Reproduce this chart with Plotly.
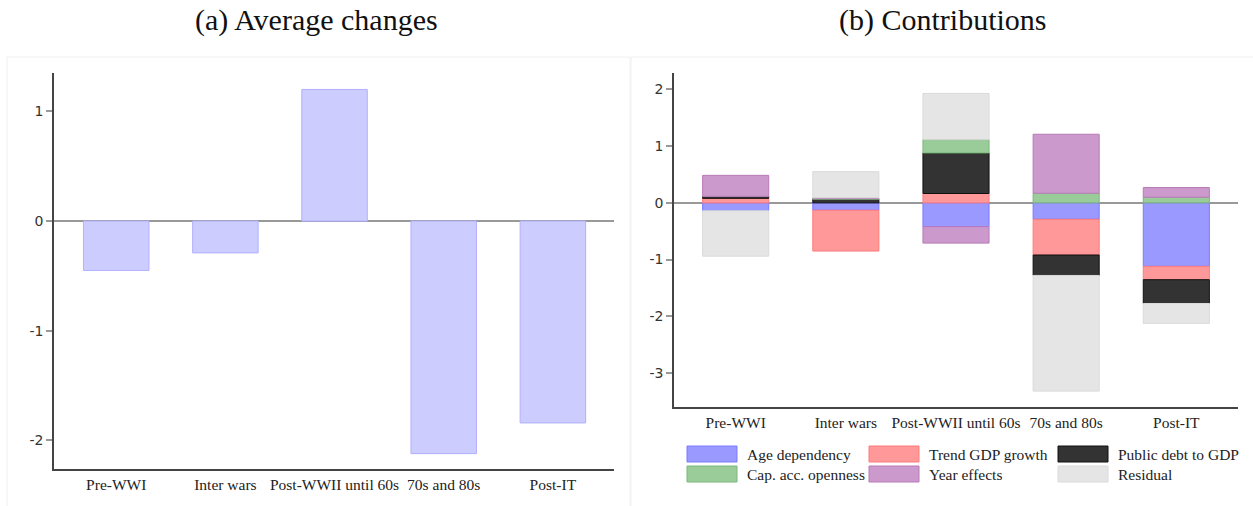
import plotly.graph_objects as go

W, H = 1253, 506

periods = ["Pre-WWI", "Inter wars", "Post-WWII until 60s", "70s and 80s", "Post-IT"]

# (a) average change per period
avg_change = [-0.45, -0.29, 1.20, -2.12, -1.84]

# (b) decomposition of the change into contributions
age_dependency = [-0.14, -0.13, -0.42, -0.29, -1.12]
trend_gdp_growth = [0.08, -0.72, 0.165, -0.63, -0.235]
public_debt = [0.035, 0.065, 0.715, -0.36, -0.42]
cap_acc_openness = [0.0, 0.01, 0.24, 0.17, 0.10]
year_effects = [0.37, 0.015, -0.29, 1.04, 0.17]
residual = [-0.80, 0.46, 0.81, -2.04, -0.35]

left_ticks = [-2, -1, 0, 1]
right_ticks = [-3, -2, -1, 0, 1, 2]

series = [
    ("Age dependency", age_dependency, "#9999ff", "#7a7aff"),
    ("Trend GDP growth", trend_gdp_growth, "#ff9999", "#ff7a7a"),
    ("Public debt to GDP", public_debt, "#333333", "#111111"),
    ("Cap. acc. openness", cap_acc_openness, "#99cc99", "#7ab87a"),
    ("Year effects", year_effects, "#cc99cc", "#b87ab8"),
    ("Residual", residual, "#e5e5e5", "#dadada"),
]

SERIF = "Liberation Serif"
SANS = "DejaVu Sans"


def px_x(p):
    return p / W


def px_y(p):
    return 1 - p / H


def hyphen_labels(vals):
    return [str(v) for v in vals]


fig = go.Figure()

fig.add_trace(go.Bar(
    x=periods, y=avg_change, width=0.6,
    marker=dict(color="#ccccff", line=dict(color="#b0b0ff", width=1)),
    xaxis="x", yaxis="y", showlegend=False,
))

for name, vals, fill, edge in series:
    fig.add_trace(go.Bar(
        x=periods, y=vals, width=0.6, name=name,
        marker=dict(color=fill, line=dict(color=edge, width=1)),
        xaxis="x2", yaxis="y2", showlegend=False,
    ))

axis_common = dict(
    showline=True, linecolor="#444444", linewidth=1.5,
    showgrid=False, mirror=False,
)

fig.update_layout(
    width=W, height=H,
    margin=dict(l=0, r=0, t=0, b=0),
    paper_bgcolor="white", plot_bgcolor="white",
    barmode="relative",
    xaxis=dict(
        domain=[px_x(54), px_x(614)], anchor="y",
        range=[-0.57, 4.56], ticks="", zeroline=False,
        tickfont=dict(family=SERIF, size=15.5, color="#222222"),
        ticklabelstandoff=1, **axis_common,
    ),
    yaxis=dict(
        domain=[px_y(469), px_y(73)], anchor="x",
        range=[-2.26, 1.35], tickvals=left_ticks, ticktext=hyphen_labels(left_ticks),
        ticks="outside", ticklen=6, tickcolor="#999999", tickwidth=1.5,
        zeroline=True, zerolinecolor="#999999", zerolinewidth=2,
        tickfont=dict(family=SANS, size=14, color="#333333"),
        **axis_common,
    ),
    xaxis2=dict(
        domain=[px_x(674), px_x(1238)], anchor="y2",
        range=[-0.56, 4.56], ticks="", zeroline=False,
        tickfont=dict(family=SERIF, size=15.5, color="#222222"),
        ticklabelstandoff=1, **axis_common,
    ),
    yaxis2=dict(
        domain=[px_y(407), px_y(73)], anchor="x2",
        range=[-3.6, 2.29], tickvals=right_ticks, ticktext=hyphen_labels(right_ticks),
        ticks="outside", ticklen=6, tickcolor="#999999", tickwidth=1.5,
        zeroline=True, zerolinecolor="#999999", zerolinewidth=2,
        tickfont=dict(family=SANS, size=14, color="#333333"),
        **axis_common,
    ),
)

shapes = [
    # faint panel frames
    dict(type="rect", xref="paper", yref="paper",
         x0=px_x(7), x1=px_x(630), y0=px_y(510), y1=px_y(57),
         line=dict(color="#f0f0f0", width=1), fillcolor="rgba(0,0,0,0)", layer="below"),
    dict(type="rect", xref="paper", yref="paper",
         x0=px_x(631), x1=px_x(1260), y0=px_y(510), y1=px_y(57),
         line=dict(color="#f0f0f0", width=1), fillcolor="rgba(0,0,0,0)", layer="below"),
]

annotations = [
    dict(text="(a) Average changes", x=px_x(316), y=px_y(20), xref="paper", yref="paper",
         showarrow=False, xanchor="center", yanchor="middle",
         font=dict(family=SERIF, size=30, color="#111111")),
    dict(text="(b) Contributions", x=px_x(943), y=px_y(20), xref="paper", yref="paper",
         showarrow=False, xanchor="center", yanchor="middle",
         font=dict(family=SERIF, size=30, color="#111111")),
]

# legend: three columns, two rows
col_x = [687, 869, 1058]
row_y = [454, 474]
sw_w, sw_h = 50, 16
for i, (name, _, fill, edge) in enumerate(series):
    col = i % 3
    row = i // 3
    x0 = col_x[col]
    yc = row_y[row]
    shapes.append(dict(
        type="rect", xref="paper", yref="paper",
        x0=px_x(x0), x1=px_x(x0 + sw_w),
        y0=px_y(yc + sw_h / 2), y1=px_y(yc - sw_h / 2),
        fillcolor=fill, line=dict(color=edge, width=1),
    ))
    annotations.append(dict(
        text=name, x=px_x(x0 + sw_w + 8), y=px_y(yc), xref="paper", yref="paper",
        showarrow=False, xanchor="left", yanchor="middle",
        font=dict(family=SERIF, size=15.5, color="#222222"),
    ))

fig.update_layout(shapes=shapes, annotations=annotations)

fig.write_html("out.html")
